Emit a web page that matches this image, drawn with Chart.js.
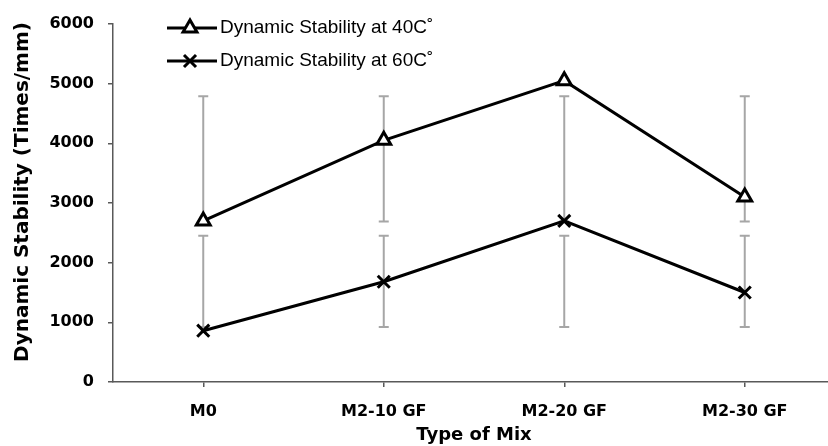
<!DOCTYPE html>
<html>
<head>
<meta charset="utf-8">
<script src="https://cdn.jsdelivr.net/npm/chart.js@4.4.0/dist/chart.umd.min.js"></script>
<style>
html, body { margin: 0; padding: 0; background: #fff; overflow: hidden; }
</style>
</head>
<body>
<canvas id="chart" width="840" height="446"></canvas>
<script>
// values
const mixTypes = ["M0", "M2-10 GF", "M2-20 GF", "M2-30 GF"];
const stability40 = [2700, 4050, 5050, 3100];
const stability60 = [860, 1680, 2700, 1500];
// error bar ends (same range at every mix in the original)
const err40Low = [2690, 2690, 2690, 2690];
const err40High = [4790, 4790, 4790, 4790];
const err60Low = [920, 920, 920, 920];
const err60High = [2450, 2450, 2450, 2450];
const yTicks = [0, 1000, 2000, 3000, 4000, 5000, 6000];
const yTitle = "Dynamic Stability (Times/mm)";

const boldFont = size => ({ family: "DejaVu Sans", weight: "bold", size: size });
const axisGray = "#595959";

// grey error bars behind the lines
const errorBars = {
    id: "errorBars",
    beforeDatasetsDraw(chart) {
        const ctx = chart.ctx;
        const xs = chart.scales.x, ys = chart.scales.y;
        ctx.save();
        ctx.strokeStyle = "#a6a6a6";
        ctx.lineWidth = 2;
        chart.data.datasets.forEach(ds => {
            ds.errLow.forEach((lo, i) => {
                let px = xs.getPixelForValue(i);
                let y1 = ys.getPixelForValue(lo);
                let y2 = ys.getPixelForValue(ds.errHigh[i]);
                ctx.beginPath();
                ctx.moveTo(px, y1); ctx.lineTo(px, y2);
                ctx.moveTo(px - 5, y1); ctx.lineTo(px + 5, y1);
                ctx.moveTo(px - 5, y2); ctx.lineTo(px + 5, y2);
                ctx.stroke();
            });
        });
        ctx.restore();
    }
};

// legend inside the plot + y title (Excel centres it a bit higher than the plot)
const extras = {
    id: "extras",
    afterDraw(chart) {
        const ctx = chart.ctx;
        const rows = [28, 61];
        ctx.save();
        chart.data.datasets.forEach((ds, i) => {
            let y = rows[i];
            ctx.strokeStyle = "#000";
            ctx.lineWidth = 3;
            ctx.beginPath();
            ctx.moveTo(167, y); ctx.lineTo(217, y);
            ctx.stroke();
            ctx.fillStyle = "#fff";
            Chart.helpers.drawPoint(ctx, {
                pointStyle: ds.pointStyle, radius: ds.pointRadius,
                borderWidth: ds.pointBorderWidth, rotation: 0
            }, 190, y);
            ctx.fillStyle = "#000";
            ctx.font = "19px 'Liberation Sans'";
            ctx.textBaseline = "middle";
            ctx.textAlign = "left";
            ctx.fillText(ds.label, 220, y);
        });

        ctx.translate(23, 192);
        ctx.rotate(-Math.PI / 2);
        ctx.font = "bold 20px 'DejaVu Sans'";
        ctx.textAlign = "center";
        ctx.textBaseline = "middle";
        ctx.fillStyle = "#000";
        ctx.fillText(yTitle, 0, 0);
        ctx.restore();
    }
};

new Chart(document.getElementById("chart"), {
    type: "line",
    data: {
        labels: mixTypes,
        datasets: [{
            label: "Dynamic Stability at 40C˚",
            data: stability40,
            errLow: err40Low,
            errHigh: err40High,
            borderColor: "#000",
            borderWidth: 3,
            pointStyle: "triangle",
            pointRadius: 8,
            pointBorderWidth: 3,
            pointBackgroundColor: "#fff",
            pointBorderColor: "#000"
        }, {
            label: "Dynamic Stability at 60C˚",
            data: stability60,
            errLow: err60Low,
            errHigh: err60High,
            borderColor: "#000",
            borderWidth: 3,
            pointStyle: "crossRot",
            pointRadius: 8.5,
            pointBorderWidth: 3,
            pointBackgroundColor: "#000",
            pointBorderColor: "#000"
        }]
    },
    options: {
        responsive: false,
        animation: false,
        layout: { autoPadding: false, padding: { top: 24, right: 5, left: 0, bottom: 0 } },
        plugins: {
            legend: { display: false },
            tooltip: { enabled: false }
        },
        scales: {
            x: {
                offset: true,
                grid: { drawOnChartArea: false, tickLength: 5, color: axisGray, lineWidth: 1.5 },
                border: { color: axisGray, width: 1.5 },
                ticks: { font: boldFont(16), color: "#000", padding: 15 },
                title: { display: true, text: "Type of Mix", font: boldFont(18), color: "#000", padding: { top: 0, bottom: 0 } },
                afterFit: s => { s.height = 64; }
            },
            y: {
                min: 0,
                max: 6000,
                afterBuildTicks: s => { s.ticks = yTicks.map(v => ({ value: v })); },
                grid: { drawOnChartArea: false, tickLength: 5, color: axisGray, lineWidth: 1.5 },
                border: { color: axisGray, width: 1.5 },
                ticks: { font: boldFont(16), color: "#000", padding: 14, callback: v => String(v) },
                afterFit: s => { s.width = 113; }
            }
        }
    },
    plugins: [errorBars, extras]
});
</script>
</body>
</html>
